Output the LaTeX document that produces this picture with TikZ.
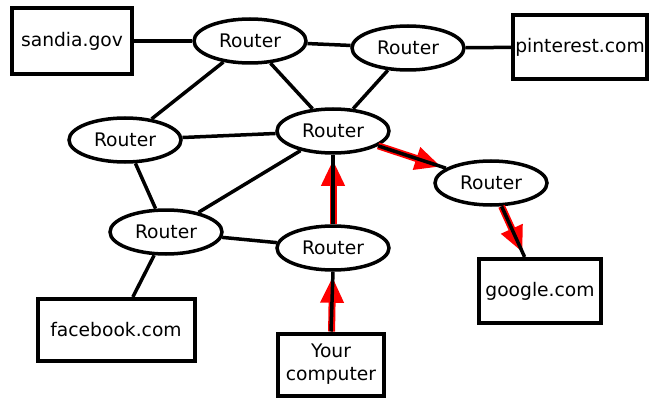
\documentclass[tikz,border=0pt]{standalone}
\usepackage{fontspec}
\setmainfont{DejaVu Sans}
\usetikzlibrary{shapes.geometric,arrows.meta}
\begin{document}
\begin{tikzpicture}[x=1pt,y=-1pt,
  router/.style={ellipse,draw,line width=3.5pt,fill=white,minimum width=112pt,minimum height=44pt,inner sep=0pt,font=\fontsize{18.7}{22}\selectfont},
  host/.style={rectangle,draw,line width=4pt,fill=white,inner sep=0pt,align=center,font=\fontsize{18.7}{23}\selectfont},
  link/.style={line width=3.5pt},
  redpath/.style={red,line width=7pt,-{Triangle[length=26pt,width=22pt]},shorten >=5pt},
  blackpath/.style={line width=3.5pt}]
\useasboundingbox (0,0) rectangle (655,398);
\node[host,minimum width=120pt,minimum height=66pt] (sandia) at (72,41) {sandia.gov};
\node[host,minimum width=134pt,minimum height=64pt] (pin) at (580,47) {pinterest.com};
\node[host,minimum width=157pt,minimum height=62pt] (fb) at (116,330) {facebook.com};
\node[host,minimum width=122pt,minimum height=64pt] (google) at (540,291) {google.com};
\node[host,minimum width=106pt,minimum height=62pt] (pc) at (331,364.5) {Your\\computer};
\node[router] (r1) at (250,41) {Router};
\node[router] (r2) at (408,48) {Router};
\node[router] (r3) at (125,140) {Router};
\node[router] (r4) at (333,131) {Router};
\node[router] (r5) at (491,183) {Router};
\node[router] (r6) at (166,232) {Router};
\node[router] (r7) at (333,248) {Router};
\draw[link] (sandia) -- (r1);
\draw[link] (r1) -- (r2);
\draw[link] (r2) -- (pin);
\draw[link] (r1) -- (r3);
\draw[link] (r1) -- (r4);
\draw[link] (r2) -- (r4);
\draw[link] (r3) -- (r4);
\draw[link] (r3) -- (r6);
\draw[link] (r6) -- (r4);
\draw[link] (r6) -- (r7);
\draw[link] (r6) -- (fb);
\draw[redpath] (pc) -- (r7);
\draw[redpath] (r7) -- (r4);
\draw[redpath] (r4) -- (r5);
\draw[redpath] (r5) -- (google);
\begin{scope}[xshift=1.5pt]
\draw[blackpath] (pc.north) -- (r7.south);
\draw[blackpath] (r7.north) -- (r4.south);
\end{scope}
\begin{scope}[yshift=1.5pt]
\draw[blackpath] (r4) -- (r5);
\end{scope}
\begin{scope}[xshift=1.5pt]
\draw[blackpath] (r5) -- (google);
\end{scope}
\end{tikzpicture}
\end{document}
